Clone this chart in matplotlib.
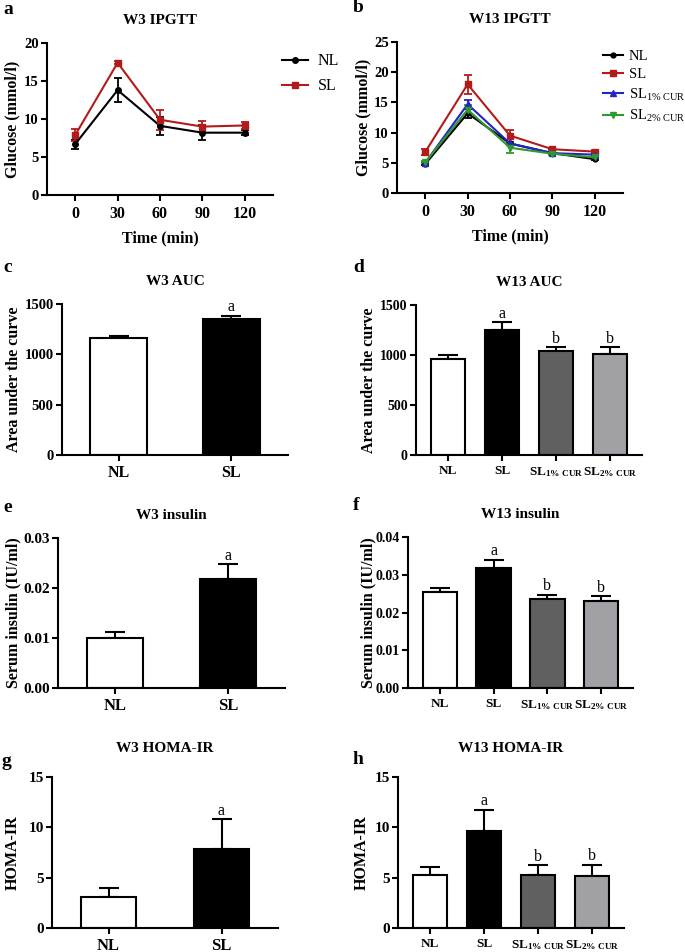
import matplotlib
matplotlib.use('Agg')
from matplotlib import pyplot as plt
from matplotlib.lines import Line2D
import numpy as np

plt.rcParams['font.family'] = ['Liberation Serif', 'DejaVu Serif']
plt.rcParams['mathtext.fontset'] = 'custom'
plt.rcParams['mathtext.rm'] = 'Liberation Serif'
plt.rcParams['mathtext.bf'] = 'Liberation Serif:bold'
plt.rcParams['mathtext.it'] = 'Liberation Serif:italic'

## IPGTT data ##
time_min = [0, 30, 60, 90, 120]

w3_nl_mean = [6.7, 13.8, 9.1, 8.2, 8.2]
w3_nl_err = [0.6, 1.55, 1.2, 0.95, 0.3]
w3_sl_mean = [7.9, 17.4, 9.9, 9.0, 9.15]
w3_sl_err = [0.8, 0.2, 1.3, 0.7, 0.5]

w13_nl_mean = [4.8, 13.2, 8.2, 6.6, 5.6]
w13_nl_err = [0.2, 0.7, 0.3, 0.2, 0.2]
w13_sl_mean = [6.8, 18.0, 9.5, 7.25, 6.85]
w13_sl_err = [0.5, 1.6, 1.0, 0.2, 0.2]
w13_sl1_mean = [5.0, 14.7, 8.2, 6.6, 6.35]
w13_sl1_err = [0.2, 0.7, 0.3, 0.2, 0.3]
w13_sl2_mean = [5.1, 13.8, 7.5, 6.5, 5.9]
w13_sl2_err = [0.2, 0.7, 0.8, 0.2, 0.3]

## bar data ##
groups_2 = ["NL", "SL"]
groups_4 = ["NL", "SL", r"SL$_{\mathbf{1\%\ CUR}}$", r"SL$_{\mathbf{2\%\ CUR}}$"]

w3_auc = [1159, 1348]
w3_auc_err = [23, 33]
w3_auc_sig = ["", "a"]
w13_auc = [957, 1247, 1043, 1010]
w13_auc_err = [40, 80, 34, 67]
w13_auc_sig = ["", "a", "b", "b"]

w3_ins = [0.0100, 0.0219]
w3_ins_err = [0.0012, 0.0029]
w3_ins_sig = ["", "a"]
w13_ins = [0.0254, 0.0318, 0.0236, 0.0230]
w13_ins_err = [0.0012, 0.0022, 0.0011, 0.0014]
w13_ins_sig = ["", "a", "b", "b"]

w3_homa = [3.03, 7.88]
w3_homa_err = [0.99, 2.93]
w3_homa_sig = ["", "a"]
w13_homa = [5.28, 9.63, 5.24, 5.21]
w13_homa_err = [0.82, 2.14, 0.99, 1.05]
w13_homa_sig = ["", "a", "b", "b"]

bar_colors_2 = ['white', 'black']
bar_colors_4 = ['white', 'black', '#606060', '#a0a0a5']

W, H = 685, 952
fig = plt.figure(figsize=(W / 100, H / 100), dpi=100)


def px_axes(left, top, right, bottom, ylab_x):
    ax = fig.add_axes([left / W, 1 - bottom / H, (right - left) / W, (bottom - top) / H])
    ax._ylab_x = (ylab_x + 8 - left) / (right - left)
    return ax


def px_text(x, y, s, **kw):
    fig.text(x / W, 1 - y / H, s, **kw)


def style(ax, tick_size, pad=2):
    for s in ['top', 'right']:
        ax.spines[s].set_visible(False)
    for s in ['left', 'bottom']:
        ax.spines[s].set_linewidth(1.5)
    ax.tick_params(width=1.5, length=4, labelsize=tick_size, pad=pad)
    for lab in ax.get_xticklabels() + ax.get_yticklabels():
        lab.set_fontweight('bold')
    ax.yaxis.set_label_coords(ax._ylab_x, 0.5)


def line_panel(ax, series, yticks):
    handles = []
    for mean, err, color, marker, ms, label in series:
        ax.errorbar(time_min, mean, yerr=err, color=color, marker=marker, ms=ms,
                    lw=1.5, capsize=3, elinewidth=1.3, capthick=1.3, clip_on=False)
        handles.append(Line2D([], [], color=color, marker=marker, ms=ms, lw=1.5, label=label))
    ax.set_xlim(-20, 140)
    ax.set_ylim(yticks[0], yticks[-1])
    ax.set_xticks(time_min)
    ax.set_yticks(yticks)
    ax.set_xlabel('Time (min)', fontsize=11.5, fontweight='bold', labelpad=6)
    ax.set_ylabel('Glucose (mmol/l)', fontsize=11.5, fontweight='bold')
    style(ax, 11.5, pad=4)
    ax.tick_params(axis='y', pad=2)
    for lab in ax.get_yticklabels():
        lab.set_fontsize(10.5)
    return handles


def bar_panel(ax, labels, vals, errs, sigs, colors, yticks, ylabel, ytl, xsize, ysize, wid, cap, sig_off):
    idx = np.arange(len(vals))
    ax.bar(idx, vals, width=wid, color=colors, edgecolor='black', linewidth=1.5, zorder=2)
    ax.errorbar(idx, vals, yerr=[np.zeros(len(errs)), errs], fmt='none', ecolor='black',
                elinewidth=1.5, capsize=cap, capthick=1.5, zorder=1)
    for i, s in enumerate(sigs):
        if s:
            ax.text(idx[i], vals[i] + errs[i] + sig_off, s, ha='center', va='bottom', fontsize=11.5)
    ax.set_xlim(-0.5 - (wid - 0.5) * 0.65 if len(vals) > 2 else -0.5,
                len(vals) - 0.5 + ((wid - 0.5) * 0.65 if len(vals) > 2 else 0))
    ax.set_ylim(yticks[0], yticks[-1])
    ax.set_xticks(idx)
    ax.set_xticklabels(labels)
    ax.set_yticks(yticks)
    ax.set_yticklabels(ytl)
    ax.set_ylabel(ylabel, fontsize=11.5, fontweight='bold')
    style(ax, ysize, pad=2)
    for lab in ax.get_xticklabels():
        lab.set_fontsize(xsize)
    ax.tick_params(axis='x', pad=3)


# a
ax_a = px_axes(47, 43, 273, 195, 12)
h_a = line_panel(ax_a, [(w3_nl_mean, w3_nl_err, 'black', 'o', 4, 'NL'),
                        (w3_sl_mean, w3_sl_err, '#b31b1b', 's', 4, 'SL')], [0, 5, 10, 15, 20])
ax_a.legend(handles=h_a, loc='upper left', bbox_to_anchor=(276 / W, 1 - 47 / H),
            bbox_transform=fig.transFigure, frameon=False, fontsize=11.5, handlelength=1.6,
            labelspacing=0.55, borderaxespad=0, handletextpad=0.6)
ax_a.set_title('W3 IPGTT', fontsize=11, fontweight='bold', pad=14)

# b
ax_b = px_axes(397, 42, 623, 193, 363)
h_b = line_panel(ax_b, [(w13_nl_mean, w13_nl_err, 'black', 'o', 3.5, 'NL'),
                        (w13_sl_mean, w13_sl_err, '#b31b1b', 's', 4, 'SL'),
                        (w13_sl1_mean, w13_sl1_err, '#2323c8', '^', 4, r'SL$_{\mathrm{1\%\ CUR}}$'),
                        (w13_sl2_mean, w13_sl2_err, '#2e9a2e', 'v', 4, r'SL$_{\mathrm{2\%\ CUR}}$')],
                 [0, 5, 10, 15, 20, 25])
ax_b.legend(handles=h_b, loc='upper left', bbox_to_anchor=(597 / W, 1 - 44 / H),
            bbox_transform=fig.transFigure, frameon=False, fontsize=10.5, handlelength=1.4,
            labelspacing=0.35, borderaxespad=0, handletextpad=0.4)
ax_b.set_title('W13 IPGTT', fontsize=11, fontweight='bold', pad=14)

# c
ax_c = px_axes(62, 304, 288, 455, 14)
bar_panel(ax_c, groups_2, w3_auc, w3_auc_err, w3_auc_sig, bar_colors_2, [0, 500, 1000, 1500],
          'Area under the curve', ['0', '500', '1000', '1500'], 11.5, 10.5, 0.5, 7, 5)
ax_c.set_title('W3 AUC', fontsize=11, fontweight='bold', pad=14)

# d
ax_d = px_axes(416, 305, 642, 455, 369)
bar_panel(ax_d, groups_4, w13_auc, w13_auc_err, w13_auc_sig, bar_colors_4, [0, 500, 1000, 1500],
          'Area under the curve', ['0', '500', '1000', '1500'], 9.5, 10, 0.64, 7, 5)
ax_d.set_title('W13 AUC', fontsize=11, fontweight='bold', pad=14)

# e
ax_e = px_axes(58, 538, 285, 688, 13)
bar_panel(ax_e, groups_2, w3_ins, w3_ins_err, w3_ins_sig, bar_colors_2, [0, 0.01, 0.02, 0.03],
          'Serum insulin (IU/ml)', ['0.00', '0.01', '0.02', '0.03'], 12, 11, 0.49, 7, 0.0001)
ax_e.set_title('W3 insulin', fontsize=11, fontweight='bold', pad=14)

# f
ax_f = px_axes(408, 537, 633, 688, 368)
bar_panel(ax_f, groups_4, w13_ins, w13_ins_err, w13_ins_sig, bar_colors_4,
          [0, 0.01, 0.02, 0.03, 0.04], 'Serum insulin (IU/ml)',
          ['0.00', '0.01', '0.02', '0.03', '0.04'], 9.5, 10, 0.64, 7, 0.0001)
ax_f.set_title('W13 insulin', fontsize=11, fontweight='bold', pad=14)

# g
ax_g = px_axes(52, 777, 278, 928, 13)
bar_panel(ax_g, groups_2, w3_homa, w3_homa_err, w3_homa_sig, bar_colors_2, [0, 5, 10, 15],
          'HOMA-IR', ['0', '5', '10', '15'], 12, 11, 0.49, 7, 0.05)
ax_g.set_title('W3 HOMA-IR', fontsize=11, fontweight='bold', pad=18)

# h
ax_h = px_axes(398, 777, 624, 928, 362)
bar_panel(ax_h, groups_4, w13_homa, w13_homa_err, w13_homa_sig, bar_colors_4, [0, 5, 10, 15],
          'HOMA-IR', ['0', '5', '10', '15'], 9.5, 11, 0.64, 7, 0.05)
ax_h.set_title('W13 HOMA-IR', fontsize=11, fontweight='bold', pad=18)

# panel letters
for x, y, s in [(3, 10, 'a'), (353, 8, 'b'), (3, 268, 'c'), (353, 267, 'd'),
                (3, 507, 'e'), (353, 505, 'f'), (2, 762, 'g'), (353, 759, 'h')]:
    px_text(x, y, s, fontsize=14, fontweight='bold', va='center', ha='left')

plt.savefig('out.png', dpi=100)
